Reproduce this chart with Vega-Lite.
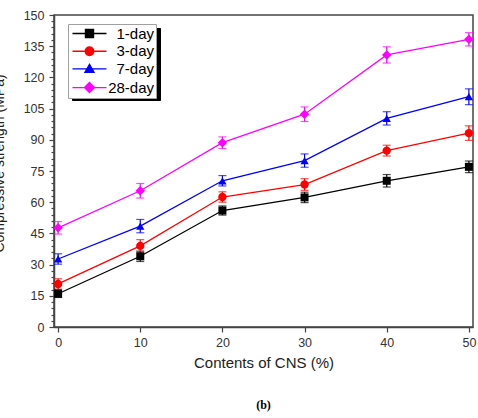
{
  "$schema": "https://vega.github.io/schema/vega-lite/v6.json",
  "width": 419,
  "height": 312,
  "autosize": {"type": "none"},
  "padding": {"left": 54, "top": 15, "right": 5, "bottom": 91},
  "background": "white",
  "title": {
    "text": "(b)",
    "orient": "bottom",
    "font": "Liberation Serif",
    "fontWeight": "bold",
    "fontSize": 12,
    "color": "#000",
    "offset": 29
  },
  "data": {
    "values": [
      {"series": "1-day", "cns": 0, "strength": 16.0, "err": 1.8},
      {"series": "1-day", "cns": 10, "strength": 34.0, "err": 2.5},
      {"series": "1-day", "cns": 20, "strength": 56.0, "err": 2.2},
      {"series": "1-day", "cns": 30, "strength": 62.3, "err": 2.5},
      {"series": "1-day", "cns": 40, "strength": 70.3, "err": 3.0},
      {"series": "1-day", "cns": 50, "strength": 77.0, "err": 2.8},
      {"series": "3-day", "cns": 0, "strength": 20.7, "err": 2.5},
      {"series": "3-day", "cns": 10, "strength": 39.0, "err": 3.0},
      {"series": "3-day", "cns": 20, "strength": 62.5, "err": 2.5},
      {"series": "3-day", "cns": 30, "strength": 68.5, "err": 2.8},
      {"series": "3-day", "cns": 40, "strength": 84.8, "err": 2.6},
      {"series": "3-day", "cns": 50, "strength": 93.2, "err": 3.5},
      {"series": "7-day", "cns": 0, "strength": 32.7, "err": 2.5},
      {"series": "7-day", "cns": 10, "strength": 48.5, "err": 3.2},
      {"series": "7-day", "cns": 20, "strength": 70.3, "err": 2.5},
      {"series": "7-day", "cns": 30, "strength": 80.0, "err": 3.2},
      {"series": "7-day", "cns": 40, "strength": 100.3, "err": 3.2},
      {"series": "7-day", "cns": 50, "strength": 110.7, "err": 3.8},
      {"series": "28-day", "cns": 0, "strength": 47.7, "err": 3.0},
      {"series": "28-day", "cns": 10, "strength": 65.5, "err": 3.5},
      {"series": "28-day", "cns": 20, "strength": 88.6, "err": 2.8},
      {"series": "28-day", "cns": 30, "strength": 102.3, "err": 3.5},
      {"series": "28-day", "cns": 40, "strength": 130.8, "err": 3.9},
      {"series": "28-day", "cns": 50, "strength": 138.3, "err": 3.2}
    ]
  },
  "encoding": {
    "x": {
      "field": "cns",
      "type": "quantitative",
      "scale": {"domain": [-0.5, 50.5], "nice": false, "zero": false},
      "axis": {
        "title": "Contents of CNS (%)",
        "values": [0, 10, 20, 30, 40, 50],
        "grid": false,
        "tickSize": 5,
        "labelFlush": false,
        "labelOverlap": false,
        "labelPadding": 4,
        "titlePadding": 7
      }
    },
    "y": {
      "field": "strength",
      "type": "quantitative",
      "scale": {"domain": [0, 150], "nice": false},
      "axis": {
        "title": "Compressive strength (MPa)",
        "values": [0, 3, 6, 9, 12, 15, 18, 21, 24, 27, 30, 33, 36, 39, 42, 45, 48, 51, 54, 57, 60, 63, 66, 69, 72, 75, 78, 81, 84, 87, 90, 93, 96, 99, 102, 105, 108, 111, 114, 117, 120, 123, 126, 129, 132, 135, 138, 141, 144, 147, 150],
        "labelExpr": "datum.value % 15 === 0 ? datum.label : ''",
        "tickSize": {"condition": {"test": "datum.value % 15 === 0", "value": 5}, "value": 3},
        "grid": false,
        "labelOverlap": false,
        "labelFlush": false,
        "labelPadding": 5,
        "titleFontSize": 14,
        "titleX": -48,
        "titleY": 148,
        "titleBaseline": "bottom"
      }
    },
    "color": {
      "field": "series",
      "type": "nominal",
      "sort": ["1-day", "3-day", "7-day", "28-day"],
      "scale": {
        "domain": ["1-day", "3-day", "7-day", "28-day"],
        "range": ["#000000", "#ff0000", "#0000ff", "#ff00ff"]
      },
      "legend": {
        "title": null,
        "orient": "none",
        "legendX": 14,
        "legendY": 9,
        "zindex": 2,
        "strokeColor": "#a0a0a0",
        "fillColor": "white",
        "padding": 2,
        "symbolSize": 100,
        "symbolOffset": 12,
        "symbolStrokeWidth": 1.4,
        "labelAlign": "right",
        "labelOffset": 57,
        "labelFontSize": 15,
        "labelFont": "Liberation Sans",
        "labelColor": "#000",
        "rowPadding": 1.7,
        "encode": {
          "symbols": {
            "update": {
              "shape": {"signal": "datum.value === '1-day' ? 'M-3.4,0H3.4M-0.8,-0.8H0.8V0.8H-0.8Z' : datum.value === '3-day' ? 'M-3.4,0H3.4M0.85,0A0.85,0.85,0,1,1,-0.85,0A0.85,0.85,0,1,1,0.85,0Z' : datum.value === '7-day' ? 'M-3.4,0H3.4M0,-0.9L0.9,0.7H-0.9Z' : 'M-3.4,0H3.4M0,-1L1,0L0,1L-1,0Z'"},
              "fill": {"signal": "scale('color', datum.value)"},
              "stroke": {"signal": "scale('color', datum.value)"},
              "opacity": {"value": 1}
            }
          }
        }
      }
    }
  },
  "layer": [
    {
      "mark": {"type": "line", "strokeWidth": 1.3},
      "encoding": {
        "opacity": {
          "field": "series",
          "type": "ordinal",
          "scale": {
            "domain": ["28-day", "7-day", "3-day", "1-day"],
            "range": [1, 1, 1, 1]
          },
          "legend": {
            "title": null,
            "orient": "none",
            "legendX": 18,
            "legendY": 13,
            "zindex": 1,
            "strokeColor": "#000",
            "fillColor": "#000",
            "padding": 2,
            "symbolSize": 100,
            "symbolOffset": 0,
            "labelOffset": 0,
            "labelExpr": "''",
            "labelFontSize": 15,
            "rowPadding": -2.3,
            "encode": {
              "symbols": {
                "update": {
                  "shape": {"value": "M-1.2,-1.3H14.6V1.3H-1.2Z"},
                  "fill": {"value": "#000"},
                  "stroke": {"value": "#000"},
                  "opacity": {"value": 1}
                }
              }
            }
          }
        }
      }
    },
    {
      "mark": {"type": "errorbar", "ticks": {"size": 8, "thickness": 1.2}, "rule": {"strokeWidth": 1.2}},
      "encoding": {
        "yError": {"field": "err"}
      }
    },
    {
      "transform": [{"filter": "datum.series === '1-day'"}],
      "mark": {"type": "point", "shape": "square", "filled": true, "opacity": 1, "size": 64}
    },
    {
      "transform": [{"filter": "datum.series === '3-day'"}],
      "mark": {"type": "point", "shape": "circle", "filled": true, "opacity": 1, "size": 70}
    },
    {
      "transform": [{"filter": "datum.series === '7-day'"}],
      "mark": {"type": "point", "shape": "triangle-up", "filled": true, "opacity": 1, "size": 70}
    },
    {
      "transform": [{"filter": "datum.series === '28-day'"}],
      "mark": {"type": "point", "shape": "diamond", "filled": true, "opacity": 1, "size": 90}
    }
  ],
  "config": {
    "font": "Liberation Sans",
    "view": {"stroke": "#444444", "strokeWidth": 1.5},
    "axis": {
      "domainColor": "#444444",
      "domainWidth": 1.5,
      "tickColor": "#444444",
      "tickWidth": 1.2,
      "labelFont": "Liberation Sans",
      "labelFontSize": 12.5,
      "labelColor": "#333333",
      "titleFont": "Liberation Sans",
      "titleFontSize": 15,
      "titleFontWeight": "normal",
      "titleColor": "#222222"
    }
  }
}
